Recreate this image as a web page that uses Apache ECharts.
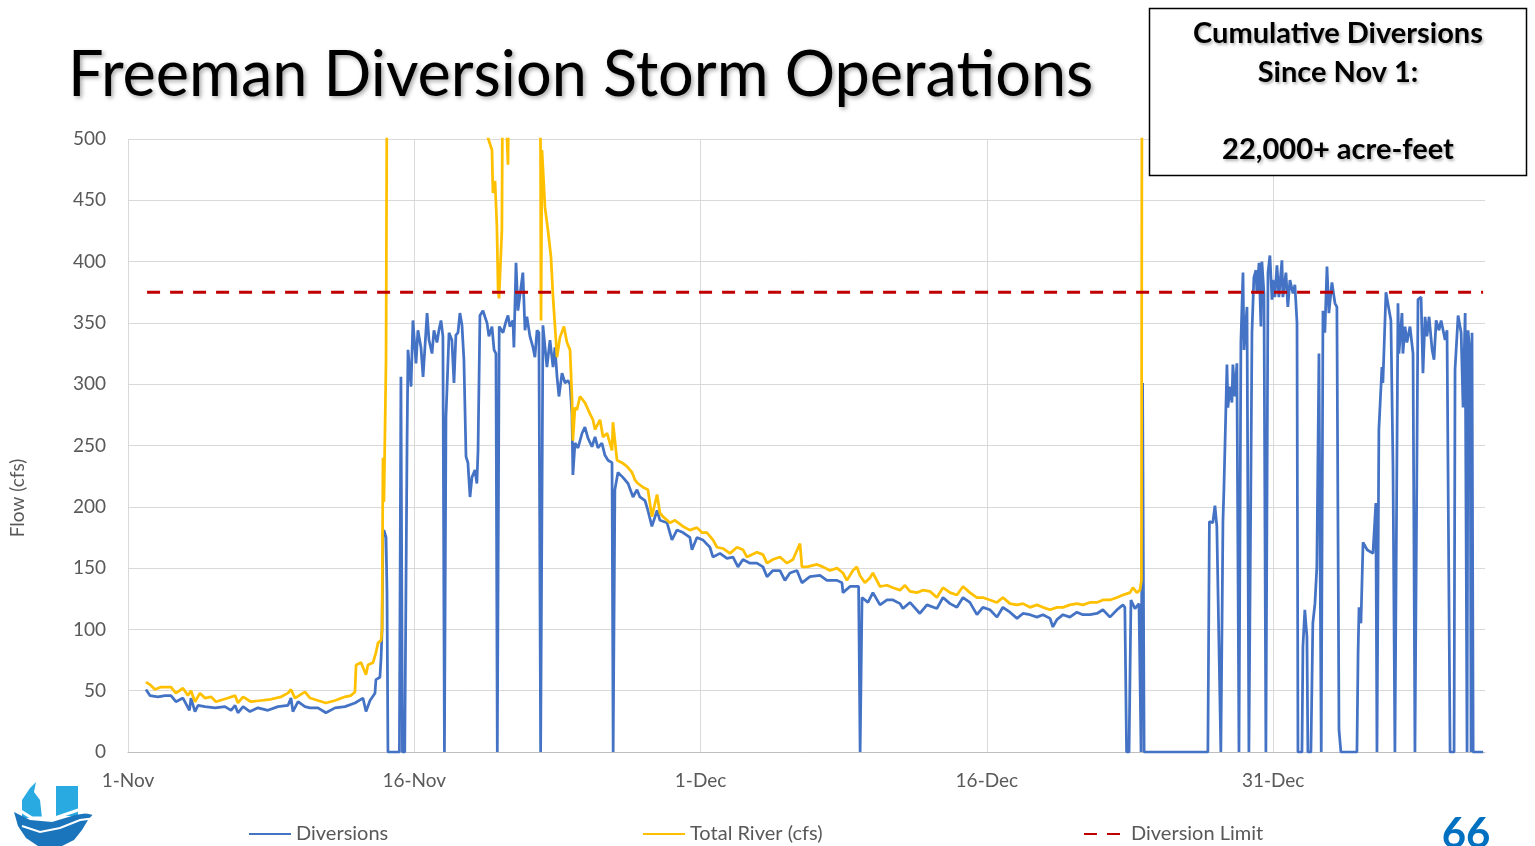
<!DOCTYPE html>
<html>
<head>
<meta charset="utf-8">
<script src="https://cdn.jsdelivr.net/npm/echarts@6/dist/echarts.min.js"></script>
<style>
html,body{margin:0;padding:0;background:#fff;}
#chart{width:1535px;height:846px;}
</style>
</head>
<body>
<div id="chart"></div>
<script>
// x values: days since 1-Nov
const tickLabels = ['1-Nov', '16-Nov', '1-Dec', '16-Dec', '31-Dec'];
const seriesNames = ['Diversions', 'Total River (cfs)', 'Diversion Limit'];
const limitValue = 375;
const limitDays = [1.0, 71.0];

const diversions = [
[0.94,51],[1.15,46],[1.57,45],[1.94,46],[2.25,46],[2.51,41],[2.88,44],[3.22,34],[3.30,44],[3.51,33],[3.67,38],[4.03,37],[4.56,36],[5.08,37],[5.40,34],[5.61,38],[5.76,32],[6.03,37],[6.39,33],[6.81,36],[7.33,34],[7.86,37],[8.38,38],[8.54,44],[8.64,33],[8.91,41],[9.27,37],[9.54,36],[9.95,36],[10.37,32],[10.85,36],[11.37,37],[11.89,40],[12.31,44],[12.47,33],[12.68,42],[12.94,48],[12.99,59],[13.20,61],[13.26,77],[13.31,99],[13.36,179],[13.41,181],[13.52,175],[13.57,130],[13.62,0],[14.22,0],[14.30,306],[14.38,0],[14.50,0],[14.62,250],[14.67,328],[14.83,298],[14.93,352],[15.09,317],[15.19,344],[15.35,330],[15.46,306],[15.67,358],[15.77,336],[15.93,325],[16.03,344],[16.19,334],[16.29,344],[16.40,352],[16.50,339],[16.58,0],[16.66,273],[16.82,342],[16.97,336],[17.08,301],[17.18,340],[17.29,342],[17.39,358],[17.50,348],[17.60,320],[17.71,241],[17.81,236],[17.92,208],[18.02,224],[18.18,230],[18.28,219],[18.34,246],[18.44,356],[18.60,360],[18.70,355],[18.81,350],[18.91,339],[19.07,347],[19.18,328],[19.28,325],[19.35,0],[19.45,347],[19.65,342],[19.80,351],[19.91,356],[20.01,347],[20.17,352],[20.22,330],[20.33,399],[20.43,360],[20.59,379],[20.69,391],[20.80,344],[20.90,355],[21.06,339],[21.22,330],[21.32,322],[21.43,344],[21.53,342],[21.62,0],[21.74,348],[21.85,330],[21.95,314],[22.11,336],[22.27,314],[22.37,330],[22.48,306],[22.58,290],[22.74,309],[22.90,301],[23.05,303],[23.16,300],[23.26,276],[23.31,226],[23.42,252],[23.58,248],[23.79,260],[23.94,265],[24.10,256],[24.31,249],[24.47,257],[24.62,248],[24.83,252],[24.99,242],[25.15,238],[25.36,236],[25.42,0],[25.51,214],[25.67,228],[25.93,224],[26.20,219],[26.46,208],[26.67,214],[26.82,208],[27.09,205],[27.24,197],[27.45,184],[27.72,197],[27.87,189],[28.24,187],[28.50,173],[28.76,181],[29.08,179],[29.44,175],[29.55,165],[29.81,175],[30.12,173],[30.49,167],[30.65,159],[31.02,162],[31.38,158],[31.70,159],[31.96,151],[32.22,157],[32.59,154],[32.95,154],[33.27,151],[33.48,143],[33.79,148],[34.16,148],[34.42,140],[34.68,146],[35.05,148],[35.31,138],[35.73,143],[36.26,144],[36.62,140],[37.15,140],[37.41,138],[37.46,130],[37.83,135],[38.28,135],[38.36,0],[38.46,126],[38.77,122],[39.03,130],[39.40,120],[39.77,124],[40.08,124],[40.45,121],[40.60,117],[40.97,122],[41.49,113],[41.86,120],[42.38,117],[42.70,126],[43.07,121],[43.43,118],[43.75,126],[44.11,122],[44.48,112],[44.79,118],[45.16,116],[45.53,110],[45.84,118],[46.21,114],[46.58,109],[46.89,113],[47.26,112],[47.62,110],[47.94,112],[48.31,109],[48.46,102],[48.67,108],[48.99,112],[49.35,110],[49.72,114],[50.03,112],[50.40,112],[50.77,113],[51.08,116],[51.45,110],[51.82,116],[51.97,118],[52.13,120],[52.23,118],[52.32,0],[52.45,0],[52.55,124],[52.76,117],[52.97,121],[53.08,0],[53.16,301],[53.24,0],[56.58,0],[56.66,188],[56.84,187],[56.95,201],[57.05,184],[57.15,184],[57.26,0],[57.37,188],[57.42,214],[57.58,316],[57.63,281],[57.74,298],[57.84,285],[57.89,316],[58.00,290],[58.10,317],[58.21,0],[58.31,334],[58.42,391],[58.47,328],[58.63,363],[58.73,0],[58.89,342],[58.99,387],[59.10,393],[59.15,374],[59.26,399],[59.36,347],[59.41,400],[59.52,374],[59.62,0],[59.73,391],[59.83,405],[59.94,369],[59.99,385],[60.09,371],[60.20,397],[60.30,371],[60.46,401],[60.51,371],[60.67,391],[60.77,363],[60.88,385],[61.04,374],[61.14,381],[61.25,350],[61.30,0],[61.51,0],[61.56,86],[61.66,116],[61.77,94],[61.82,0],[61.98,0],[62.08,105],[62.19,121],[62.29,151],[62.40,325],[62.52,0],[62.61,360],[62.71,342],[62.82,396],[62.92,358],[63.08,383],[63.24,366],[63.34,363],[63.45,18],[63.55,0],[64.39,0],[64.45,81],[64.50,118],[64.60,105],[64.71,171],[64.92,165],[65.23,162],[65.38,203],[65.44,0],[65.54,263],[65.70,314],[65.75,301],[65.91,375],[66.01,366],[66.17,352],[66.28,232],[66.38,0],[66.54,366],[66.59,325],[66.75,358],[66.80,325],[66.91,347],[67.01,334],[67.17,347],[67.33,325],[67.43,0],[67.59,369],[67.75,371],[67.85,309],[67.96,355],[68.06,339],[68.17,355],[68.33,328],[68.43,320],[68.54,352],[68.69,344],[68.80,352],[69.01,336],[69.11,344],[69.27,0],[69.48,0],[69.53,312],[69.69,356],[69.85,342],[69.95,281],[70.06,358],[70.16,0],[70.21,344],[70.32,325],[70.37,0],[70.42,342],[70.48,0],[71.0,0]
];

const totalRiver = [
[0.94,57],[1.15,55],[1.41,51],[1.73,53],[2.25,53],[2.51,48],[2.88,52],[3.14,46],[3.30,50],[3.51,41],[3.77,48],[4.03,44],[4.35,45],[4.61,41],[5.24,44],[5.61,46],[5.76,40],[6.03,45],[6.44,41],[6.97,42],[7.49,43],[8.02,45],[8.38,48],[8.54,51],[8.75,44],[9.27,49],[9.54,44],[9.95,42],[10.37,40],[10.85,42],[11.37,45],[11.68,46],[11.89,49],[11.95,71],[12.21,73],[12.47,63],[12.57,71],[12.84,73],[12.99,81],[13.10,89],[13.26,91],[13.31,100],[13.36,240],[13.41,204],[13.52,320],[13.60,700],[13.70,1200],[15.0,1500],[17.0,1500],[18.6,900],[18.86,501],[19.07,491],[19.12,456],[19.23,466],[19.33,428],[19.39,377],[19.44,370],[19.59,426],[19.65,620],[19.80,620],[19.86,499],[19.91,479],[20.01,650],[21.0,900],[21.59,620],[21.64,352],[21.69,491],[21.85,444],[22.00,426],[22.16,404],[22.27,371],[22.48,322],[22.63,338],[22.84,347],[23.00,334],[23.16,328],[23.26,290],[23.31,254],[23.42,281],[23.52,279],[23.68,290],[23.94,285],[24.20,276],[24.36,271],[24.47,263],[24.73,271],[24.89,257],[25.10,260],[25.36,246],[25.41,269],[25.62,238],[25.88,236],[26.14,233],[26.41,228],[26.56,222],[26.72,219],[26.98,216],[27.24,214],[27.45,192],[27.72,210],[27.87,195],[28.03,192],[28.40,187],[28.66,189],[29.08,184],[29.44,181],[29.81,183],[30.07,179],[30.33,179],[30.65,173],[30.86,167],[31.17,166],[31.54,162],[31.91,167],[32.22,165],[32.43,159],[32.95,163],[33.27,161],[33.48,154],[33.79,157],[34.16,159],[34.53,154],[34.84,157],[35.21,170],[35.31,151],[35.57,151],[36.10,153],[36.41,151],[36.78,148],[37.15,150],[37.46,146],[37.67,140],[37.98,148],[38.19,151],[38.35,144],[38.61,138],[38.87,142],[39.03,146],[39.40,135],[39.77,136],[40.08,134],[40.45,132],[40.71,136],[40.97,131],[41.34,130],[41.65,132],[42.02,131],[42.38,126],[42.70,134],[43.07,130],[43.43,128],[43.75,135],[44.11,130],[44.48,126],[44.79,126],[45.16,124],[45.53,122],[45.84,126],[46.21,121],[46.58,120],[46.89,121],[47.26,118],[47.62,120],[47.94,118],[48.31,116],[48.67,118],[48.99,118],[49.35,120],[49.72,121],[50.03,120],[50.40,122],[50.77,122],[51.08,124],[51.45,124],[51.82,126],[52.13,128],[52.50,130],[52.65,134],[52.86,130],[53.02,132],[53.10,140],[53.14,800],[53.30,1500],[71.0,1500]
];

const chart = echarts.init(document.getElementById('chart'), null, {renderer: 'canvas'});
const FONT = 'Lato, "Open Sans", sans-serif';
const GRAY = '#595959';
const GRID = '#d9d9d9';
const legendCommon = {
  top: 824, padding: 0, itemWidth: 42, itemHeight: 14, itemGap: 0,
  itemStyle: {opacity: 0, color: 'rgba(0,0,0,0)', borderColor: 'rgba(0,0,0,0)', borderWidth: 0},
  textStyle: {fontSize: 20, color: GRAY, fontFamily: FONT}
};

const option = {
  backgroundColor: '#ffffff',
  animation: false,
  grid: {left: 128, right: 50, top: 139, bottom: 94, containLabel: false},
  xAxis: {
    type: 'value', min: 0, max: 71.1, interval: 15,
    axisLine: {show: true, lineStyle: {color: '#bfbfbf', width: 1}},
    axisTick: {show: false},
    splitLine: {show: true, lineStyle: {color: [GRID, GRID, GRID, GRID, GRID, 'rgba(0,0,0,0)'], width: 1}},
    axisLabel: {
      show: true, margin: 19, fontSize: 19, color: GRAY, fontFamily: FONT,
      showMaxLabel: false,
      formatter: function (v) {
        const i = Math.round(v / 15);
        return (Math.abs(v - i * 15) < 1e-6 && tickLabels[i]) ? tickLabels[i] : '';
      }
    }
  },
  yAxis: {
    type: 'value', min: 0, max: 500, interval: 50,
    axisLine: {show: false},
    axisTick: {show: false},
    splitLine: {show: true, lineStyle: {color: GRID, width: 1}},
    axisLabel: {margin: 22, fontSize: 19, color: GRAY, fontFamily: FONT}
  },
  legend: [
    Object.assign({data: [seriesNames[0]], left: 248}, legendCommon),
    Object.assign({data: [seriesNames[1]], left: 642}, legendCommon),
    Object.assign({data: [seriesNames[2]], left: 1083}, legendCommon)
  ],
  series: [
    {name: seriesNames[0], type: 'line', data: diversions, symbol: 'none', showSymbol: false,
     lineStyle: {color: '#4472C4', width: 2.75}, itemStyle: {color: '#4472C4'}, clip: true, z: 2},
    {name: seriesNames[1], type: 'line', data: totalRiver, symbol: 'none', showSymbol: false,
     lineStyle: {color: '#FFC000', width: 2.75}, itemStyle: {color: '#FFC000'}, clip: true, z: 3},
    {name: seriesNames[2], type: 'line', data: limitDays.map(d => [d, limitValue]), symbol: 'none', showSymbol: false,
     lineStyle: {color: '#C00000', width: 3, type: [13, 10]}, itemStyle: {color: '#C00000'}, clip: true, z: 4}
  ],
  graphic: [
    {type: 'text', left: 68, top: 44, z: 10,
     style: {text: 'Freeman Diversion Storm Operations', font: '63px ' + FONT, fill: '#000',
       textShadowColor: 'rgba(0,0,0,0.35)', textShadowBlur: 4, textShadowOffsetX: 2, textShadowOffsetY: 2}},
    {type: 'rect', z: 20, shape: {x: 1149.5, y: 8.5, width: 377, height: 167},
     style: {fill: '#fff', stroke: '#000', lineWidth: 1.5}},
    {type: 'text', z: 21, x: 1338, y: 34,
     style: {text: 'Cumulative Diversions', font: 'bold 29px ' + FONT, fill: '#000', textAlign: 'center', textVerticalAlign: 'middle', align: 'center', verticalAlign: 'middle',
       textShadowColor: 'rgba(0,0,0,0.3)', textShadowBlur: 3, textShadowOffsetX: 1.5, textShadowOffsetY: 1.5}},
    {type: 'text', z: 21, x: 1338, y: 73,
     style: {text: 'Since Nov 1:', font: 'bold 29px ' + FONT, fill: '#000', textAlign: 'center', textVerticalAlign: 'middle', align: 'center', verticalAlign: 'middle',
       textShadowColor: 'rgba(0,0,0,0.3)', textShadowBlur: 3, textShadowOffsetX: 1.5, textShadowOffsetY: 1.5}},
    {type: 'text', z: 21, x: 1338, y: 150,
     style: {text: '22,000+ acre-feet', font: 'bold 29px ' + FONT, fill: '#000', textAlign: 'center', textVerticalAlign: 'middle', align: 'center', verticalAlign: 'middle',
       textShadowColor: 'rgba(0,0,0,0.3)', textShadowBlur: 3, textShadowOffsetX: 1.5, textShadowOffsetY: 1.5}},
    {type: 'text', z: 10, x: 18, y: 498, rotation: Math.PI / 2,
     style: {text: 'Flow (cfs)', font: '19px ' + FONT, fill: GRAY, textAlign: 'center', textVerticalAlign: 'middle', align: 'center', verticalAlign: 'middle'}},
    {type: 'text', z: 10, x: 1466, y: 834,
     style: {text: '66', font: 'bold 42px ' + FONT, fill: '#0070C0', textAlign: 'center', textVerticalAlign: 'middle', align: 'center', verticalAlign: 'middle'}},
    // logo approximation
    {type: 'rect', z: 10, shape: {x: 56, y: 786, width: 22, height: 30}, style: {fill: '#29ABE2'}},
    {type: 'polygon', z: 10, shape: {points: [[22,800],[30,788],[36,782],[34,792],[40,800],[42,818],[22,818]]}, style: {fill: '#29ABE2'}},
    {type: 'polygon', z: 11, shape: {points: [[14,812],[30,820],[52,822],[75,815],[95,812],[88,820],[82,830],[74,840],[62,846],[38,846],[26,838],[18,826]]}, style: {fill: '#1B75BC'}},
    {type: 'polyline', z: 12, shape: {points: [[16,808],[32,818],[55,818],[78,810],[100,815]]}, style: {stroke: '#ffffff', lineWidth: 3, fill: null}},
    {type: 'polyline', z: 12, shape: {points: [[22,826],[40,832],[60,828],[80,820],[96,818]]}, style: {stroke: '#ffffff', lineWidth: 2, fill: null}}
  ]
};
chart.setOption(option);
</script>
</body>
</html>
